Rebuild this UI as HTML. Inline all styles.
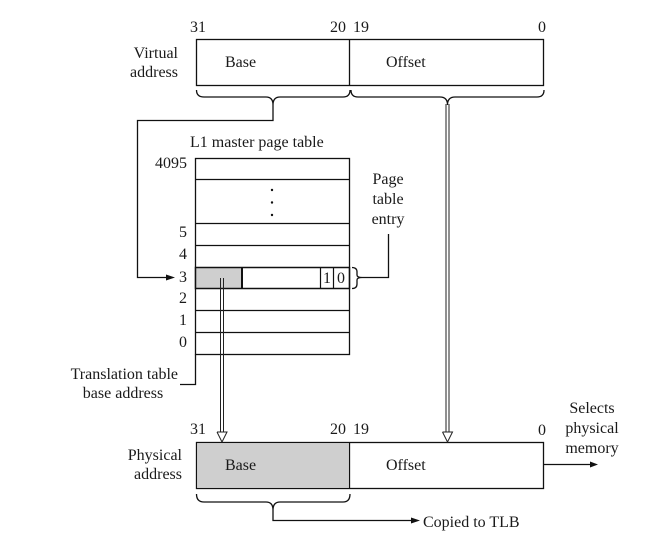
<!DOCTYPE html>
<html><head><meta charset="utf-8"><style>
html,body{margin:0;padding:0;background:#fff;}
svg{display:block;}
text{font-family:"Liberation Serif",serif;font-size:16px;fill:#1a1a1a;}
</style></head><body>
<svg width="664" height="549" viewBox="0 0 664 549" xmlns="http://www.w3.org/2000/svg">
<rect width="664" height="549" fill="#fff"/>
<g stroke="#111" stroke-width="1.3" fill="none">
<!-- Virtual address box -->
<rect x="196.5" y="39.5" width="347" height="46"/>
<line x1="349.5" y1="39.5" x2="349.5" y2="85.5"/>
<!-- braces virtual -->
<path d="M196.5,90 Q196.5,97 204,97 L266,97 Q273,97 273,105 Q273,97 280,97 L343,97 Q350,97 350,90"/>
<path d="M351,90 Q351,97 358,97 L440,97 Q447.5,97 447.5,105 Q447.5,97 455,97 L537,97 Q544,97 544,90"/>
<!-- base path to row 3 -->
<polyline points="273,105 273,120.5 137.5,120.5 137.5,277.5 168,277.5"/>
<!-- page table -->
<rect x="195.5" y="158.5" width="154" height="196"/>
<line x1="195.5" y1="179.5" x2="349.5" y2="179.5"/>
<line x1="195.5" y1="223.5" x2="349.5" y2="223.5"/>
<line x1="195.5" y1="245.5" x2="349.5" y2="245.5"/>
<line x1="195.5" y1="310.5" x2="349.5" y2="310.5"/>
<line x1="195.5" y1="332.5" x2="349.5" y2="332.5"/>
<!-- translation table base -->
<polyline points="195.5,354.5 195.5,384.5 180,384.5"/>
<!-- physical box -->
<rect x="196.5" y="442.5" width="347" height="46"/>
<line x1="349.5" y1="442.5" x2="349.5" y2="488.5"/>
<!-- brace physical -->
<path d="M196.5,494 Q196.5,502 204,502 L266,502 Q273,502 273,510 Q273,502 280,502 L343,502 Q350,502 350,494"/>
<polyline points="273,510 273,520.5 412,520.5"/>
<!-- selects arrow -->
<line x1="543.5" y1="464.5" x2="592" y2="464.5"/>
<!-- page table entry brace -->
<path d="M352,267.5 Q357,267.5 357,272 L357,275 Q357,277.5 362,277.5 Q357,277.5 357,280 L357,284 Q357,288.5 352,288.5"/>
<polyline points="362,277.5 388.5,277.5 388.5,234"/>
</g>
<!-- row 3 highlighted -->
<rect x="195.5" y="267" width="46.5" height="21.5" fill="#cfcfcf" stroke="none"/>
<g stroke="#111" stroke-width="1.5" fill="none">
<rect x="195.5" y="267.5" width="154" height="21"/>
<line x1="242" y1="267.5" x2="242" y2="288.5" stroke-width="2"/>
<line x1="320.5" y1="267.5" x2="320.5" y2="288.5" stroke-width="1.2"/>
<line x1="333.5" y1="267.5" x2="333.5" y2="288.5" stroke-width="1.2"/>
</g>
<!-- gray physical base -->
<rect x="197.2" y="443.2" width="151.6" height="44.6" fill="#cfcfcf"/>
<!-- arrowheads -->
<polygon points="175,277.5 166,274.5 166,280.5" fill="#111"/>
<polygon points="420,520.5 411,517.5 411,523.5" fill="#111"/>
<polygon points="598,464.5 590,461.5 590,467.5" fill="#111"/>
<!-- double lines -->
<g stroke="#222" stroke-width="1" fill="none">
<line x1="220.5" y1="278" x2="220.5" y2="433"/>
<line x1="223.5" y1="278" x2="223.5" y2="433"/>
<polyline points="217,432 222,442 227,432 217,432" fill="#fff"/>
<line x1="446" y1="104" x2="446" y2="433"/>
<line x1="449" y1="104" x2="449" y2="433"/>
<polyline points="442.5,432 447.5,442 452.5,432 442.5,432" fill="#fff"/>
</g>
<!-- dots -->
<g fill="#111">
<circle cx="272" cy="190" r="1.2"/>
<circle cx="272" cy="202.5" r="1.2"/>
<circle cx="272" cy="215" r="1.2"/>
</g>
<!-- text -->
<text x="198" y="32" text-anchor="middle">31</text>
<text x="338" y="32" text-anchor="middle">20</text>
<text x="361" y="32" text-anchor="middle">19</text>
<text x="542" y="32" text-anchor="middle">0</text>
<text x="178" y="58" text-anchor="end">Virtual</text>
<text x="178" y="77" text-anchor="end">address</text>
<text x="225" y="67">Base</text>
<text x="386" y="67">Offset</text>
<text x="190" y="147">L1 master page table</text>
<text x="187" y="168" text-anchor="end">4095</text>
<text x="187" y="237" text-anchor="end">5</text>
<text x="187" y="259" text-anchor="end">4</text>
<text x="187" y="282" text-anchor="end">3</text>
<text x="187" y="303" text-anchor="end">2</text>
<text x="187" y="325" text-anchor="end">1</text>
<text x="187" y="347" text-anchor="end">0</text>
<text x="327" y="283" text-anchor="middle">1</text>
<text x="341" y="283" text-anchor="middle">0</text>
<text x="388" y="184" text-anchor="middle">Page</text>
<text x="388" y="204" text-anchor="middle">table</text>
<text x="388" y="224" text-anchor="middle">entry</text>
<text x="178" y="379" text-anchor="end">Translation table</text>
<text x="123" y="398" text-anchor="middle">base address</text>
<text x="198" y="434" text-anchor="middle">31</text>
<text x="338" y="434" text-anchor="middle">20</text>
<text x="361" y="434" text-anchor="middle">19</text>
<text x="542" y="435" text-anchor="middle">0</text>
<text x="182" y="460" text-anchor="end">Physical</text>
<text x="182" y="479" text-anchor="end">address</text>
<text x="225" y="470">Base</text>
<text x="386" y="470">Offset</text>
<text x="592" y="413" text-anchor="middle">Selects</text>
<text x="592" y="433" text-anchor="middle">physical</text>
<text x="592" y="453" text-anchor="middle">memory</text>
<text x="423" y="527">Copied to TLB</text>
</svg>
</body></html>
